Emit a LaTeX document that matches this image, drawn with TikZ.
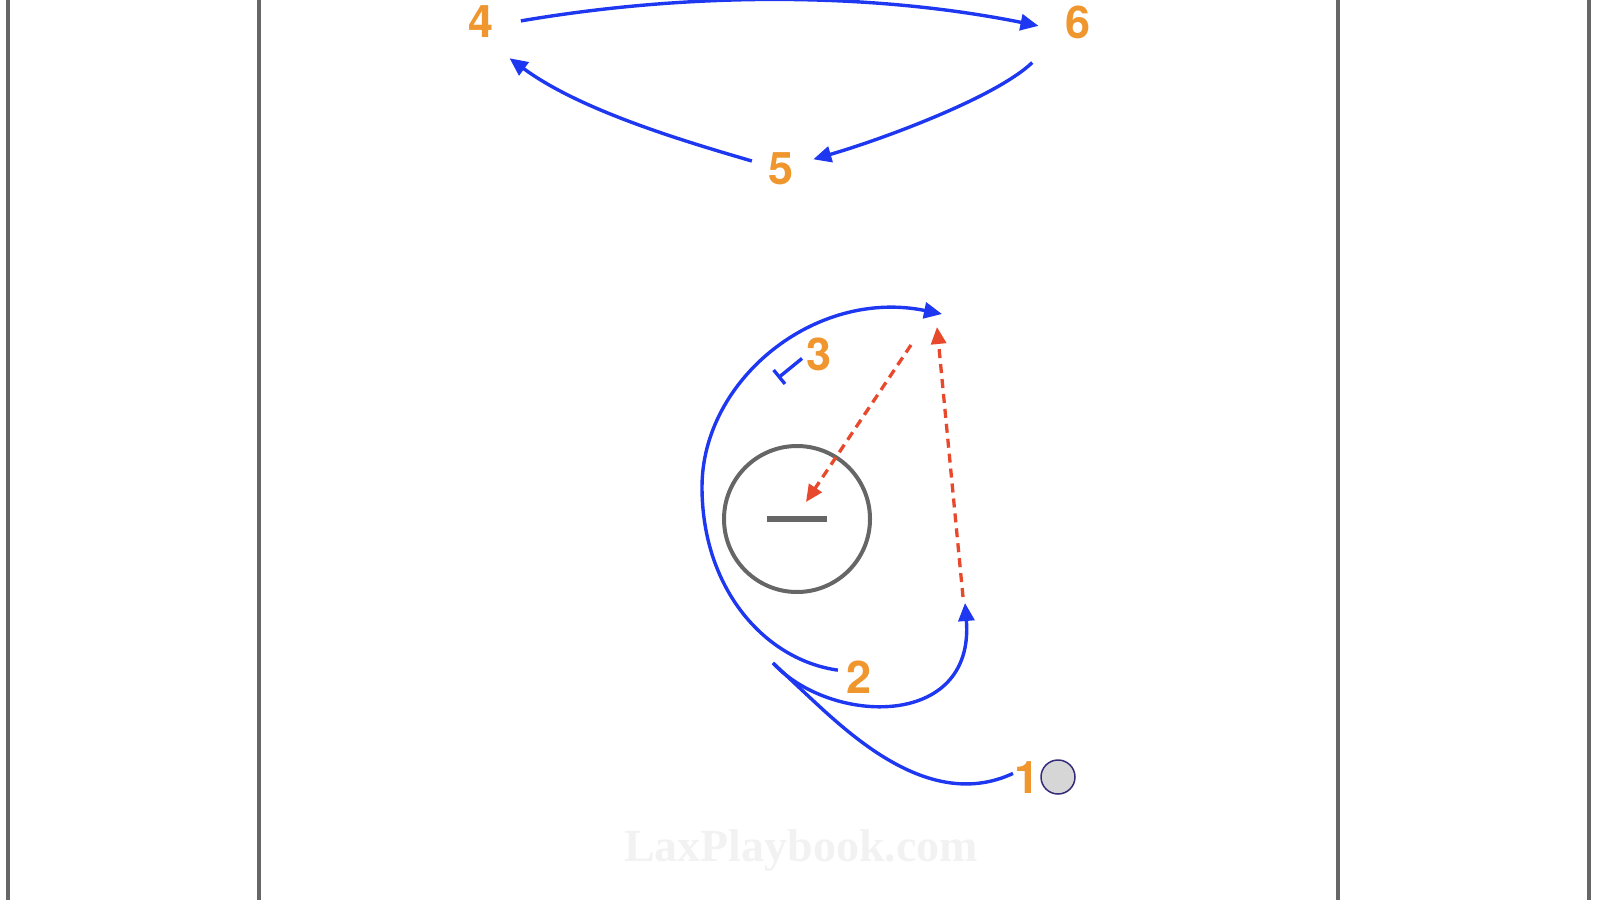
\documentclass[tikz,border=0pt]{standalone}
\usepackage{fontspec}
\usepackage{tikz}
\usetikzlibrary{arrows.meta}
\newfontfamily\playerfont{TeX Gyre Heros}
\newfontfamily\markfont{Liberation Serif}
\definecolor{RunBlue}{RGB}{30,55,240}
\definecolor{ShotRed}{RGB}{232,72,44}
\definecolor{NumOrange}{RGB}{240,150,46}
\definecolor{LineGray}{RGB}{102,102,102}
\definecolor{BallEdge}{RGB}{52,44,120}

\begin{document}
\begin{tikzpicture}[x=1pt,y=-1pt]
  \tikzstyle{Player}=[circle,inner sep=0pt,minimum size=44pt,text=NumOrange,
                      font={\playerfont\bfseries\fontsize{45}{45}\selectfont}]
  \tikzstyle{Move}=[RunBlue,line width=3.4pt]
  \tikzstyle{MoveTip}=[-{Triangle[length=18pt,width=16pt]}]
  \tikzstyle{Shot}=[ShotRed,line width=3.3pt,dash pattern=on 9pt off 6pt,
                    -{Triangle[length=17pt,width=15pt]}]
  \tikzstyle{FieldLine}=[LineGray,line width=4pt]
  \useasboundingbox (0,0) rectangle (1600,900);
  \node[text=black!5,font={\markfont\bfseries\fontsize{46}{46}\selectfont}] (Mark) at (801,850) {LaxPlaybook.com};
  \draw[FieldLine] (8,0) -- (8,900);
  \draw[FieldLine] (259,0) -- (259,900);
  \draw[FieldLine] (1338,0) -- (1338,900);
  \draw[FieldLine] (1589,0) -- (1589,900);
  \node[circle,draw=LineGray,line width=4pt,minimum size=146pt] (Goal) at (797,519) {};
  \draw[LineGray,line width=6.5pt] ([xshift=-30pt]Goal.center) -- ([xshift=30pt]Goal.center);
  \node[Player] (P1) at (1027,778) {1};
  \node[Player] (P2) at (859,677) {2};
  \node[Player] (P3) at (819,354) {3};
  \node[Player] (P4) at (481,22) {4};
  \node[Player] (P5) at (781,169) {5};
  \node[Player] (P6) at (1078,22) {6};
  \node[circle,draw=BallEdge,fill=black!16,line width=1.5pt,minimum size=34pt] (Ball) at (1058,777) {};
  \coordinate (T3) at (778,378);
  \coordinate (Cut2) at (942,314);
  \coordinate (Roll1) at (773,663);
  \coordinate (Cut1) at (965,603);
  \coordinate (S1a) at (911,345);
  \coordinate (S1b) at (806,502);
  \coordinate (S2a) at (963,597);
  \coordinate (S2b) at (937,327);
  % top rotation
  \draw[Move,MoveTip,shorten <=18pt,shorten >=19pt] (P4.-5) .. controls (690,-8) and (870,-8) .. (P6.200);
  \draw[Move,MoveTip,shorten <=39pt,shorten >=11.5pt] (P6.218) .. controls (995,98) and (880,140) .. (P5.17);
  \draw[Move,MoveTip,shorten <=8pt,shorten >=26pt] (P5.165) .. controls (680,140) and (580,110) .. (P4.-70);
  % crease
  \draw[Move,-{Bar[width=18pt,line width=3.3pt]},shorten <=-5pt] (P3.200) -- (T3);
  \draw[Move,MoveTip] (P2.162) .. controls (765,660) and (702,589) .. (702,487)
                      .. controls (702,380) and (815,288) .. (Cut2);
  \draw[Move,shorten <=-9pt] (P1.178) .. controls (930,812) and (850,735) .. (805,693) -- (Roll1);
  \draw[Move,MoveTip] (Roll1) .. controls (830,725) and (975,730) .. (Cut1);
  \draw[Shot] (S1a) -- (S1b);
  \draw[Shot] (S2a) -- (S2b);
\end{tikzpicture}
\end{document}
